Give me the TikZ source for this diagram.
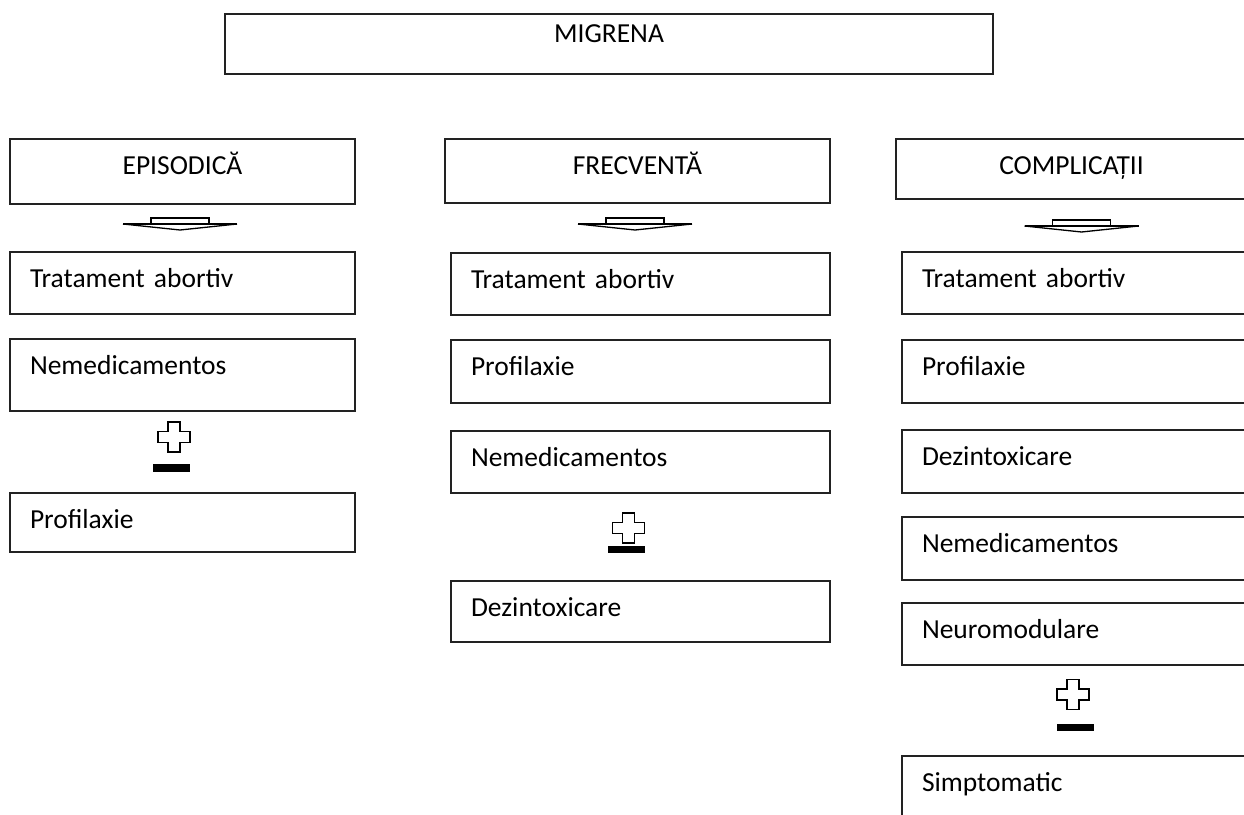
\documentclass[tikz,border=0pt]{standalone}
\usepackage{fontspec}
\setmainfont{Carlito}
\usepackage{tikz}
\definecolor{mygray}{HTML}{222222}

\begin{document}
\begin{tikzpicture}[x=1pt, y=-1pt,
    kasten/.style={draw=mygray, line width=1.1pt, anchor=north west, outer sep=0pt,
        inner xsep=20pt, inner ysep=0pt, text height=35.5pt,
        font=\fontsize{27.5}{33}\selectfont},
    kopf/.style={kasten, align=center},
    eintrag/.style={kasten, align=left}]

                \useasboundingbox (0,0) rectangle (1244,814);
                \clip (0,0) rectangle (1244,814);

                    \node[kopf, text width=728pt, text height=28pt, text depth=32pt] (migrena) at (225,14) {MIGRENA};

                    \foreach \nm/\x/\w/\tief/\tag in {
                        episodica/10/305/29.5/EPISODICĂ,
                        frecventa/445/345/28.5/FRECVENTĂ,
                        complicatii/896/311/24.5/COMPLICAȚII
                    } {
                        \node[kopf, text width=\w pt, text depth=\tief pt] (\nm) at (\x,139) {\tag};
                    };

                    \foreach \nm/\x/\y/\w/\tief/\tag in {
                        abortivA/10/252/305/26.5/Tratament abortiv,
                        nemedA/10/339/305/36.5/Nemedicamentos,
                        profilA/10/493/305/23.5/Profilaxie,
                        abortivB/451/253/339/26.5/Tratament abortiv,
                        profilB/451/340/339/27.5/Profilaxie,
                        nemedB/451/431/339/26.5/Nemedicamentos,
                        dezintB/451/581/339/25.5/Dezintoxicare,
                        abortivC/902/252/308/26.5/Tratament abortiv,
                        profilC/902/340/308/27.5/Profilaxie,
                        dezintC/902/430/308/27.5/Dezintoxicare,
                        nemedC/902/517/308/27.5/Nemedicamentos,
                        neuroC/902/603/308/26.5/Neuromodulare,
                        simptC/902/756/308/50/Simptomatic
                    } {
                        \node[eintrag, text width=\w pt, text depth=\tief pt] (\nm) at (\x,\y) {\tag};
                    };

                    \foreach \cx/\cy in {180/224, 635/224, 1081.5/226} {
                        \draw[line width=1.7pt, fill=white] (\cx-29,\cy) -- (\cx-29,\cy-6) -- (\cx+29,\cy-6) -- (\cx+29,\cy);
                        \draw[line width=1.3pt, fill=white, line join=round] (\cx-57,\cy) -- (\cx,\cy+6) -- (\cx+57,\cy);
                        \draw[line width=2.6pt] (\cx-57,\cy) -- (\cx+57,\cy);
                    };

                    \foreach \px/\py/\mx/\my in {174/437/171.5/468, 628.5/528/626/549.5, 1073/694.5/1075.5/727.5} {
                        \draw[line width=1.8pt, fill=white] (\px-6,\py-15) -- (\px+6,\py-15) -- (\px+6,\py-5.5)
                            -- (\px+16,\py-5.5) -- (\px+16,\py+5.5) -- (\px+6,\py+5.5) -- (\px+6,\py+15)
                            -- (\px-6,\py+15) -- (\px-6,\py+5.5) -- (\px-16,\py+5.5) -- (\px-16,\py-5.5)
                            -- (\px-6,\py-5.5) -- cycle;
                        \fill (\mx-18.5,\my-3.8) rectangle (\mx+18.5,\my+3.8);
                    };

\end{tikzpicture}
\end{document}
